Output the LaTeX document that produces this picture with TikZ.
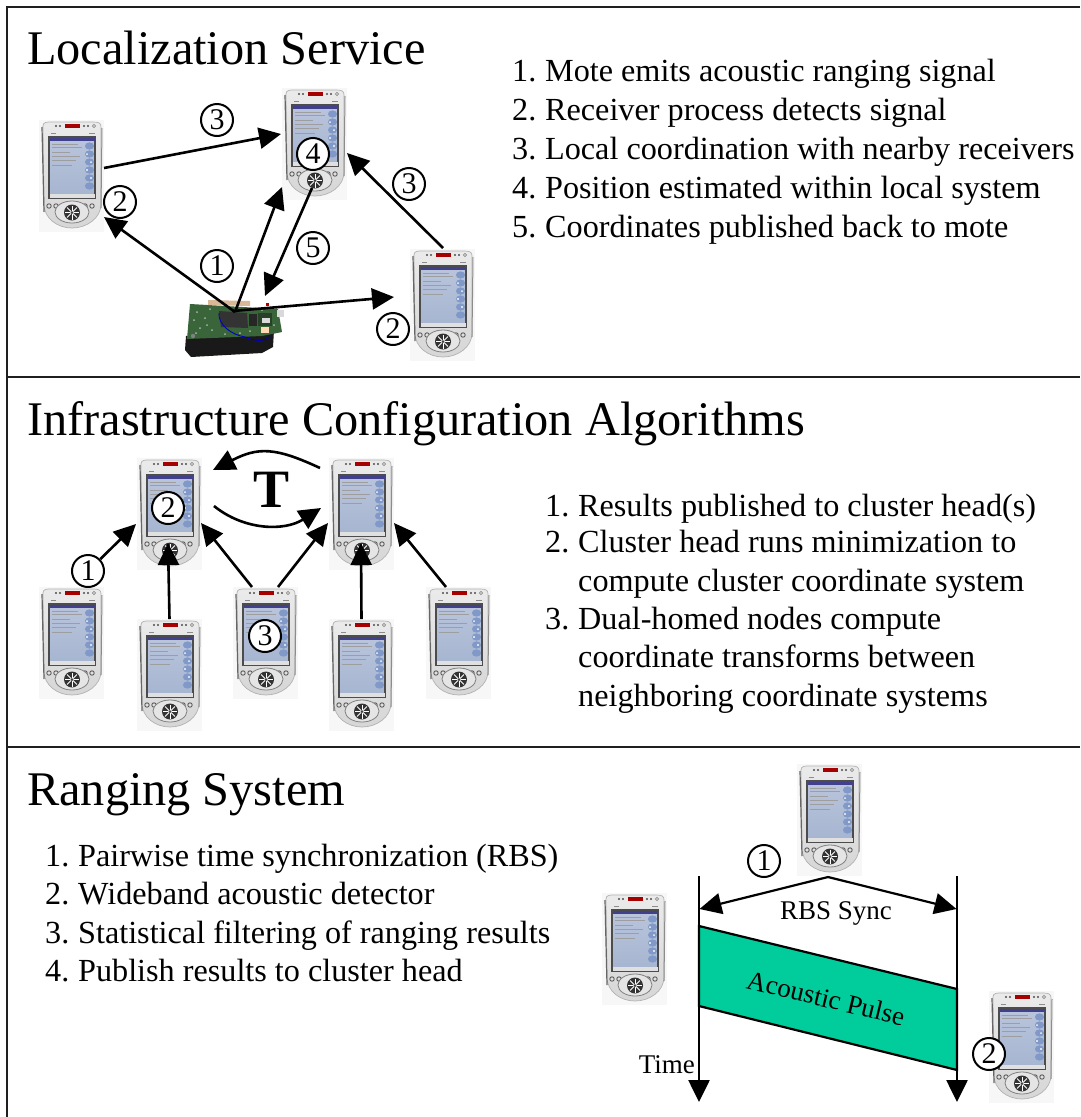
\documentclass[tikz,border=0pt]{standalone}
\usepackage{fontspec}
\setmainfont{Liberation Serif}
\usetikzlibrary{arrows.meta,calc}
\definecolor{pulse}{RGB}{0,205,155}
\definecolor{scrtop}{RGB}{186,197,220}
\definecolor{scrbot}{RGB}{165,180,208}
\definecolor{scrbtn}{RGB}{128,153,200}
\definecolor{pcb}{RGB}{58,100,58}
\newcommand{\fsz}[1]{\fontsize{#1}{#1}\selectfont}
\tikzset{
  sectionline/.style={line width=2.6pt,color=black!88},
  titletext/.style={anchor=base west,inner sep=0pt,font=\fsz{48.3}},
  listtext/.style={anchor=base west,inner sep=0pt,font=\fsz{32.2}},
  smalltext/.style={inner sep=0pt,font=\fsz{27}},
  num/.style={circle,draw=black,line width=2pt,fill=white,inner sep=0pt,minimum size=32pt,font=\fsz{30}},
  pdabox/.style={rectangle,inner sep=0pt,outer sep=0pt,minimum width=65pt,minimum height=112pt},
  motebox/.style={rectangle,inner sep=0pt,outer sep=0pt,minimum width=100pt,minimum height=60pt},
  arr/.style={line width=2.6pt,-{Triangle[length=22pt,width=21pt]}},
}
\newcommand{\pdaart}[1]{%
  \node[pdabox] (#1) {};
  \begin{scope}[shift={(#1.north west)}]
    \fill[black!3] (0,0) rectangle (65,112);
    \path[top color=black!8,bottom color=black!16,draw=black!30,line width=.7pt]
      (4,6) .. controls (4,2) and (8,2) .. (12,2) -- (54,2) .. controls (60,2) and (62,3) .. (62,7)
      -- (62,84) .. controls (62,98) and (48,108) .. (33,108) .. controls (18,108) and (5,98) .. (5,84) -- cycle;
    \draw[black!60,line width=1.2pt] (3,7) -- (5,92);
    \draw[black!45,line width=1pt] (63,8) -- (62,88);
    \fill[red!65!black] (26,4.2) rectangle (41,7.8);
    \foreach \dx in {17,21,45,49} \fill[black!70] (\dx,6) circle (1.1);
    \draw[black!45,line width=.7pt] (55,6) circle (1.6);
    \draw[black!45,line width=.5pt] (12,13) -- (17,13) (50,13) -- (56,13);
    \path[top color=scrtop,bottom color=scrbot,draw=black!70,line width=1.1pt] (10,17) rectangle (56,78);
    \fill[blue!40!black!75] (10.5,17.5) rectangle (55.5,21);
    \fill[black!12] (10.5,74) rectangle (55.5,77.5);
    \foreach \yy/\wd in {24/26,27/30,32/18,36/28,40/24,45/20}
      \draw[black!38,line width=1pt] (13,\yy) -- ++(\wd,0);
    \foreach \yy in {26,34,42,50,58,66}
      \fill[scrbtn] (50.5,\yy) ellipse (4.6 and 3.6);
    \fill[black!3] (48,34) circle (1) (52,42) circle (1) (48,50) circle (1.2) (52,58) circle (1.2);
    \foreach \dx in {10,17,46,53} \draw[black!65,line width=.9pt,fill=black!12] (\dx,86) circle (2.2);
    \path[fill=black!10,draw=black!50,line width=.8pt] (33,92) ellipse (17 and 11);
    \fill[black!80] (33,92.5) circle (8);
    \foreach \aa in {0,45,...,315} \draw[white,line width=.9pt] (33,92.5) -- ++(\aa:7);
    \fill[black!75] (33,92.5) circle (1.5);
  \end{scope}
}
\newcommand{\PDA}[3]{\begin{scope}[shift={(#2,#3)}]\pdaart{#1}\end{scope}}
\begin{document}
\begin{tikzpicture}[x=1pt,y=-1pt]
\useasboundingbox (0,0) rectangle (1080,1117);
\fill[white] (0,0) rectangle (1080,1117);
% frame
\draw[sectionline] (1080,7) -- (7,7) -- (7,1117);
\draw[sectionline] (7,377) -- (1080,377);
\draw[sectionline] (7,747) -- (1080,747);
% titles
\node[titletext] (t1) at (27,64) {Localization Service};
\node[titletext] (t2) at (27,435) {Infrastructure Configuration Algorithms};
\node[titletext] (t3) at (27,805) {Ranging System};
% lists
\node[listtext] (l11) at (512,81) {\makebox[33pt][l]{1.}Mote emits acoustic ranging signal};
\node[listtext] (l12) at (512,120) {\makebox[33pt][l]{2.}Receiver process detects signal};
\node[listtext] (l13) at (512,159) {\makebox[33pt][l]{3.}Local coordination with nearby receivers};
\node[listtext] (l14) at (512,198) {\makebox[33pt][l]{4.}Position estimated within local system};
\node[listtext] (l15) at (512,237) {\makebox[33pt][l]{5.}Coordinates published back to mote};
\node[listtext] (l21) at (545,516) {\makebox[33pt][l]{1.}Results published to cluster head(s)};
\node[listtext] (l22) at (545,552) {\makebox[33pt][l]{2.}Cluster head runs minimization to};
\node[listtext] (l22b) at (578,591) {compute cluster coordinate system};
\node[listtext] (l23) at (545,629) {\makebox[33pt][l]{3.}Dual-homed nodes compute};
\node[listtext] (l23b) at (578,667) {coordinate transforms between};
\node[listtext] (l23c) at (578,706) {neighboring coordinate systems};
\node[listtext] (l31) at (45,866) {\makebox[33pt][l]{1.}Pairwise time synchronization (RBS)};
\node[listtext] (l32) at (45,904) {\makebox[33pt][l]{2.}Wideband acoustic detector};
\node[listtext] (l33) at (45,943) {\makebox[33pt][l]{3.}Statistical filtering of ranging results};
\node[listtext] (l34) at (45,981) {\makebox[33pt][l]{4.}Publish results to cluster head};
% PDAs
\PDA{p1}{71.5}{176}
\PDA{p2}{314.5}{144}
\PDA{p3}{442.5}{305}
\PDA{h1}{169.5}{514}
\PDA{h2}{361.5}{514}
\PDA{s1}{71.5}{643}
\PDA{s2}{169.5}{675}
\PDA{s3}{265.5}{643}
\PDA{s4}{361.5}{675}
\PDA{s5}{458.5}{643}
\PDA{r1}{829.5}{820}
\PDA{r2}{634.5}{949}
\PDA{r3}{1021.5}{1047}
% mote
\node[motebox] (mote) at (235,327) {};
\fill[black!90] (186,336) -- (274,330) -- (273,347) -- (262,353) -- (191,357) -- (185,350) -- cycle;
\fill[pcb] (190,304) -- (278,309) -- (282,332) -- (262,336) -- (187,339) -- cycle;
\fill[orange!30!white!85!black] (208,300) -- (250,301) -- (250,306) -- (208,305) -- cycle;
\fill[black!80] (219,311) -- (247,313) -- (248,328) -- (221,327) -- cycle;
\fill[black!85] (249,314) rectangle (257,326);
\fill[black!35!pcb] (258,313) rectangle (272,326);
\fill[black!15] (262,318) rectangle (270,323);
\fill[black!15] (277,310) rectangle (284,317);
\fill[orange!30!white] (261,327) rectangle (269,333);
\fill[red!70!black] (266,303) rectangle (269,306);
\fill[black!50] (193,336) circle (2.2);
\draw[blue!75!black,line width=.9pt] (219,313) .. controls (218,325) and (232,335) .. (245,337) .. controls (258,343) and (268,340) .. (270,336);
\foreach \px/\py in {197/312,205/318,212/330,200/328,262/310,274/325,225/334,250/331,194/320,210/309,240/333,207/325,196/333}
  \fill[white!55!pcb] (\px,\py) circle (1);
% numbered circles
\node[num] (n3a) at (217,120) {3};
\node[num] (n4) at (313,154) {4};
\node[num] (n3b) at (409,184) {3};
\node[num] (n2a) at (120,202) {2};
\node[num] (n1) at (217,266) {1};
\node[num] (n5) at (313,248) {5};
\node[num] (n2b) at (393,329) {2};
\node[num] (m1) at (88,571) {1};
\node[num] (m2) at (168,508) {2};
\node[num] (m3) at (265,636) {3};
\node[num] (q1) at (764,861) {1};
\node[num] (q2) at (989,1054) {2};
% section 1 arrows
\draw[arr] ($(p1)+(32.5,-8)$) -- ($(p2)+(-33.5,-10)$);
\draw[arr] ($(p3)+(.5,-57)$) -- ($(p2)+(32.5,9)$);
\draw[arr] ($(mote)+(0,-15)$) -- ($(p1)+(32.5,41)$);
\draw[arr] ($(mote)+(0,-15)$) -- ($(p2)+(-32.5,43)$);
\draw[arr] ($(p2)+(-2.5,44)$) -- ($(mote)+(30,-31)$);
\draw[arr] ($(mote)+(-2,-16)$) -- ($(p3)+(-48.5,-8)$);
% section 2 arrows
\node[inner sep=0pt,anchor=base,font=\bfseries\fsz{54}] (tf) at (272,507) {T};
\draw[arr] ($(h2)+(-41.5,-46)$) .. controls (275,447) and (258,447) .. ($(h1)+(43.5,-44)$);
\draw[arr] ($(h1)+(44.5,-8)$) .. controls (245,531) and (285,531) .. ($(h2)+(-40.5,-6)$);
\draw[arr] (m1.44) -- ($(h1)+(-33.5,10)$);
\draw[arr] (s2.north) -- ($(h1)+(-1.5,29)$);
\draw[arr] ($(s3)+(-13.5,-56)$) -- ($(h1)+(31.5,9)$);
\draw[arr] ($(s3)+(12.5,-56)$) -- ($(h2)+(-33.5,9)$);
\draw[arr] (s4.north) -- ($(h2)+(-.5,29)$);
\draw[arr] ($(s5)+(-12.5,-56)$) -- ($(h2)+(32.5,9)$);
% section 3
\coordinate (ltop) at (699,876);
\coordinate (lend) at (699,1102);
\coordinate (rtop) at (957,876);
\coordinate (rend) at (957,1102);
\coordinate (apex) at (828,877);
\filldraw[fill=pulse,draw=black,line width=2.2pt] (699,926) -- (957,989) -- (957,1070) -- (699,1006) -- cycle;
\draw[arr] (ltop) -- (lend);
\draw[arr] (rtop) -- (rend);
\draw[arr,line width=2.2pt] (apex) -- (699.5,909);
\draw[arr,line width=2.2pt] (apex) -- (956.5,909);
\node[smalltext] (rbs) at (836,913) {RBS Sync};
\node[smalltext,rotate=-13.5] (ap) at (826,998) {Acoustic Pulse};
\node[smalltext,anchor=base east] (tm) at (695,1073) {Time};
\end{tikzpicture}
\end{document}
